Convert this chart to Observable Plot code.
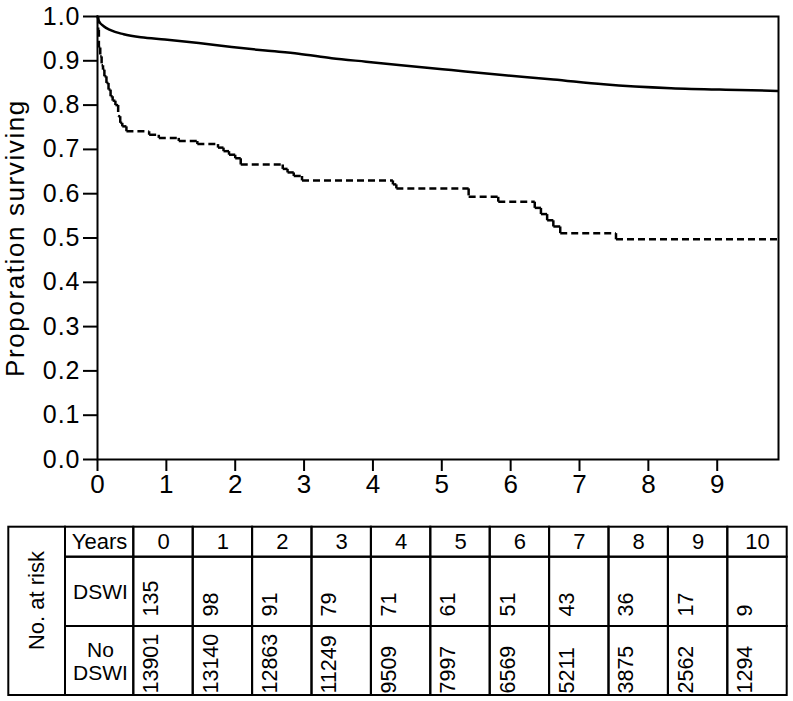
<!DOCTYPE html>
<html>
<head>
<meta charset="utf-8">
<script src="https://cdn.jsdelivr.net/npm/d3@7"></script>
<script src="https://cdn.jsdelivr.net/npm/@observablehq/plot@0.6"></script>
<style>
  html, body { margin: 0; padding: 0; background: #fff; }
  #wrap svg { display: block; }
  #chart g[aria-label="y-axis tick label"] text { letter-spacing: 1px; }
  #chart g[aria-label="text"] text { letter-spacing: 1.6px; }
</style>
</head>
<body>
<div id="wrap"><div id="chart"></div><div id="table"></div></div>
<script>
// ---- Data ----
const years = [0, 1, 2, 3, 4, 5, 6, 7, 8, 9, 10];
const dswiAtRisk = [135, 98, 91, 79, 71, 61, 51, 43, 36, 17, 9];
const noDswiAtRisk = [13901, 13140, 12863, 11249, 9509, 7997, 6569, 5211, 3875, 2562, 1294];

// DSWI (dashed) Kaplan-Meier steps: time (years) and survival after each step
const dswiTime = [0, 0.01, 0.02, 0.04, 0.06, 0.08, 0.10, 0.13, 0.16, 0.19, 0.22, 0.26, 0.30, 0.33, 0.36, 0.42,
  0.75, 0.89, 1.18, 1.45, 1.75, 1.83, 1.91, 2.00, 2.08, 2.69, 2.76, 2.85, 2.97, 4.29, 4.34,
  5.39, 5.82, 6.35, 6.44, 6.53, 6.62, 6.72, 7.53, 9.88];
const dswiSurv = [1.0, 0.97, 0.93, 0.91, 0.89, 0.88, 0.865, 0.85, 0.835, 0.82, 0.81, 0.80, 0.775, 0.76, 0.752, 0.741,
  0.733, 0.726, 0.719, 0.712, 0.704, 0.696, 0.688, 0.680, 0.666, 0.656, 0.648, 0.640, 0.630, 0.621, 0.612,
  0.593, 0.582, 0.568, 0.554, 0.540, 0.526, 0.511, 0.497, 0.497];

// No DSWI (solid) survival curve
const noDswiTime = [0, 0.02, 0.09, 0.19, 0.38, 0.63, 0.98, 1.47, 1.95, 2.44, 2.92, 3.4, 3.9, 4.41, 5.14, 5.88, 6.62, 7.35, 8.33, 9.32, 9.88];
const noDswiSurv = [1.0, 0.99, 0.978, 0.969, 0.96, 0.953, 0.948, 0.940, 0.931, 0.923, 0.916, 0.906, 0.898, 0.890, 0.879, 0.868, 0.858, 0.847, 0.838, 0.834, 0.832];

const xTicks = [0, 1, 2, 3, 4, 5, 6, 7, 8, 9];
const yTicks = [0, 0.1, 0.2, 0.3, 0.4, 0.5, 0.6, 0.7, 0.8, 0.9, 1.0];
const yLabel = "Proporation surviving";
const tableTitle = "No. at risk";
const yearsLabel = "Years";
const groupLabels = ["DSWI", "No\nDSWI"];

// ---- Build derived tables ----
const noDswi = noDswiTime.map((t, i) => ({t, s: noDswiSurv[i]}));
const segs = [];
for (let i = 0; i < dswiTime.length - 1; i++) {
  segs.push({x1: dswiTime[i], y1: dswiSurv[i], x2: dswiTime[i + 1], y2: dswiSurv[i]});
  if (dswiSurv[i + 1] !== dswiSurv[i])
    segs.push({x1: dswiTime[i + 1], y1: dswiSurv[i], x2: dswiTime[i + 1], y2: dswiSurv[i + 1]});
}

const font = "'Liberation Sans', Arial, Helvetica, sans-serif";

const chart = Plot.plot({
  width: 793,
  height: 510,
  marginLeft: 97,
  marginRight: 15,
  marginTop: 16,
  marginBottom: 51,
  style: {fontFamily: font, color: "#000", background: "#fff"},
  x: {domain: [0, 9.89]},
  y: {domain: [0, 1]},
  marks: [
    Plot.axisX({ticks: xTicks, tickFormat: d => String(d), tickSize: 12, tickPadding: 3, fontSize: 26, strokeWidth: 2, label: null}),
    Plot.axisY({ticks: yTicks, tickFormat: d => d.toFixed(1), tickSize: 14, tickPadding: 3, fontSize: 25, strokeWidth: 2, label: null}),
    Plot.frame({stroke: "#000", strokeWidth: 2}),
    Plot.line(noDswi, {x: "t", y: "s", stroke: "#000", strokeWidth: 2.5, curve: "monotone-x"}),
    Plot.link(segs, {x1: "x1", y1: "y1", x2: "x2", y2: "y2", stroke: "#000", strokeWidth: 2.5, strokeDasharray: "7,4"}),
    Plot.text([yLabel], {frameAnchor: "left", text: d => d, rotate: -90, dx: -74, textAnchor: "middle", lineAnchor: "bottom", fontSize: 26, fill: "#000"})
  ]
});
document.getElementById("chart").appendChild(chart);

// ---- Risk table ----
const colW = 59.4, col0 = 133.3;
const xu = px => (px - col0) / colW;
const rowTop = 16.7, rowH1 = 46.7, rowH2 = 116, rowBot = 185;
const cells = [];
cells.push({x1: xu(8.3), x2: xu(65), y1: rowTop, y2: rowBot});
cells.push({x1: xu(65), x2: 0, y1: rowTop, y2: rowH1});
cells.push({x1: xu(65), x2: 0, y1: rowH1, y2: rowH2});
cells.push({x1: xu(65), x2: 0, y1: rowH2, y2: rowBot});
years.forEach(j => {
  cells.push({x1: j, x2: j + 1, y1: rowTop, y2: rowH1});
  cells.push({x1: j, x2: j + 1, y1: rowH1, y2: rowH2});
  cells.push({x1: j, x2: j + 1, y1: rowH2, y2: rowBot});
});

const table = Plot.plot({
  width: 793,
  height: 191,
  margin: 0,
  style: {fontFamily: font, color: "#000", background: "#fff"},
  x: {type: "linear", domain: [xu(0), xu(793)], range: [0, 793], axis: null},
  y: {type: "identity", axis: null},
  marks: [
    Plot.rect(cells, {x1: "x1", x2: "x2", y1: "y1", y2: "y2", fill: "none", stroke: "#000", strokeWidth: 2}),
    Plot.text([tableTitle], {x: xu(36.7), y: 90, text: d => d, rotate: -90, fontSize: 22, fill: "#000"}),
    Plot.text([yearsLabel], {x: xu(99), y: (rowTop + rowH1) / 2, text: d => d, fontSize: 22, fill: "#000"}),
    Plot.text(groupLabels, {x: xu(100), y: (d, i) => i === 0 ? (rowH1 + rowH2) / 2 : (rowH2 + rowBot) / 2, text: d => d, fontSize: 21, lineHeight: 1.12, fill: "#000"}),
    Plot.text(years, {x: d => d + 0.5, y: (rowTop + rowH1) / 2, text: d => String(d), fontSize: 22, fill: "#000"}),
    Plot.text(years, {x: d => d + 0.41, y: 106, text: (d, i) => String(dswiAtRisk[i]), rotate: -90, textAnchor: "start", lineAnchor: "bottom", fontSize: 21.5, fill: "#000"}),
    Plot.text(years, {x: d => d + 0.41, y: 183, text: (d, i) => String(noDswiAtRisk[i]), rotate: -90, textAnchor: "start", lineAnchor: "bottom", fontSize: 21.5, fill: "#000"})
  ]
});
document.getElementById("table").appendChild(table);
</script>
</body>
</html>
